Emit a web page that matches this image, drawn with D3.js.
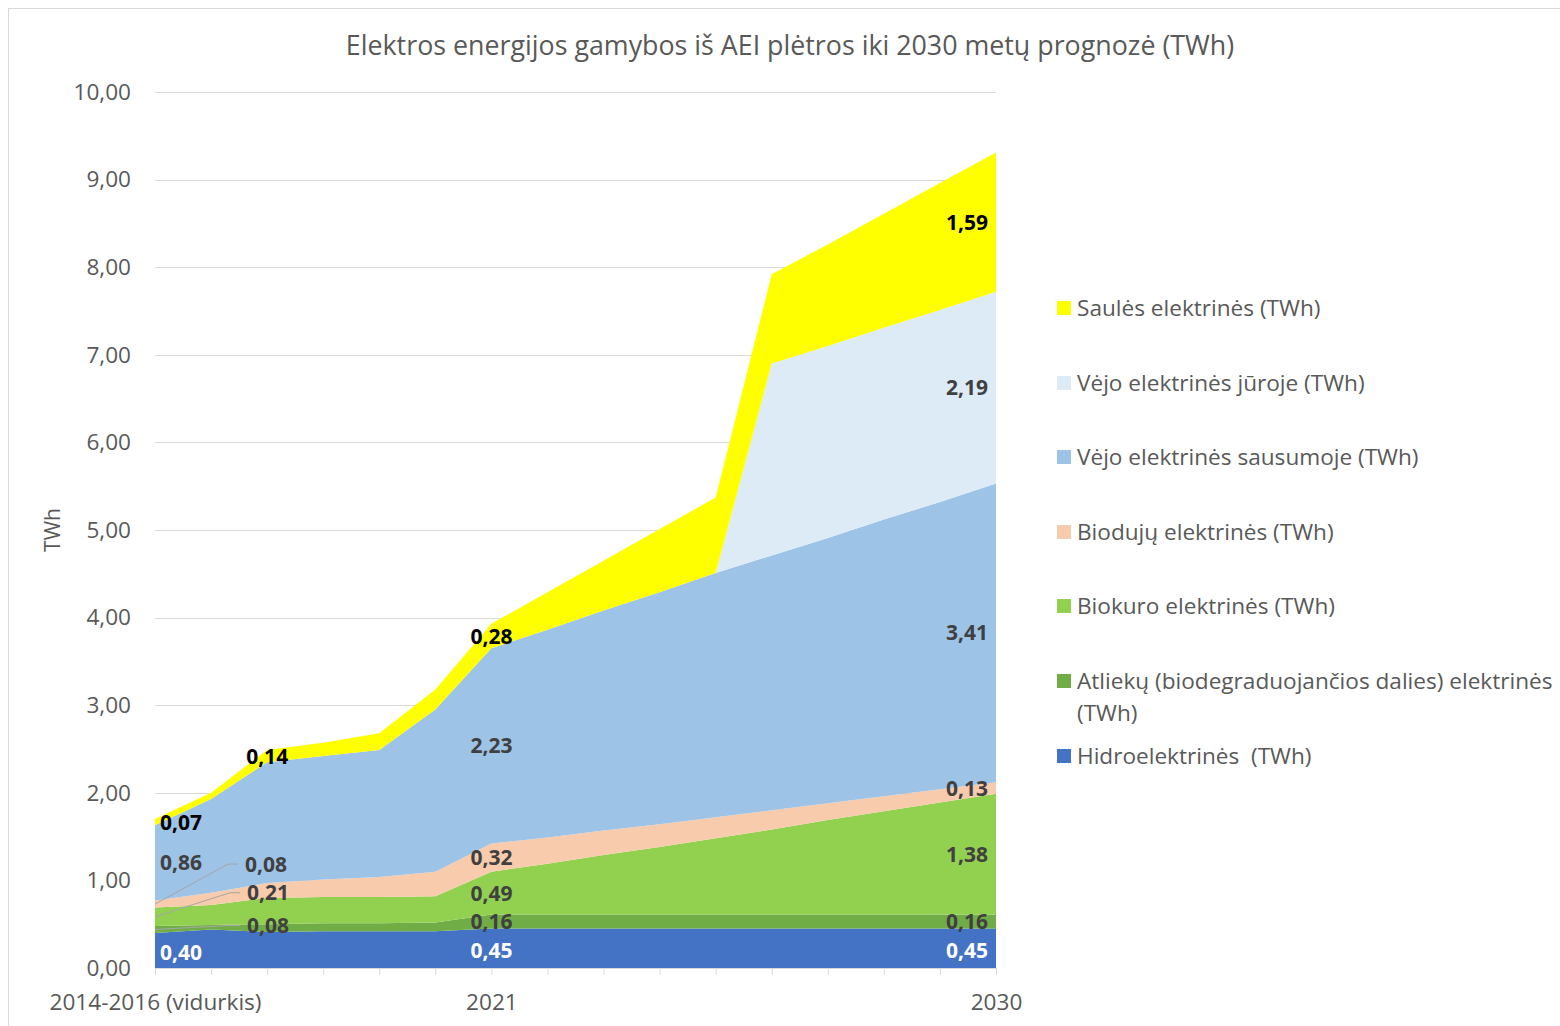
<!DOCTYPE html>
<html>
<head>
<meta charset="utf-8">
<script src="https://cdn.jsdelivr.net/npm/d3@7"></script>
<style>
  body { margin: 0; background: #fff; }
  svg { font-family: "Open Sans", sans-serif; }
</style>
</head>
<body>
<svg id="chart" width="1560" height="1026"></svg>
<script>
// categories: one point per year, first one is the 2014-2016 average
var years = ["2014-2016 (vidurkis)", "2016", "2017", "2018", "2019", "2020", "2021", "2022",
             "2023", "2024", "2025", "2026", "2027", "2028", "2029", "2030"];
var shownTicks = ["2014-2016 (vidurkis)", "2021", "2030"];
var yTicks = [0, 1, 2, 3, 4, 5, 6, 7, 8, 9, 10];

// series values (TWh), bottom to top
var hidro    = [0.40, 0.44, 0.41, 0.42, 0.42, 0.42, 0.45, 0.45, 0.45, 0.45, 0.45, 0.45, 0.45, 0.45, 0.45, 0.45];
var atliekos = [0.08, 0.05, 0.09, 0.09, 0.09, 0.10, 0.16, 0.16, 0.16, 0.16, 0.16, 0.16, 0.16, 0.16, 0.16, 0.16];
var biokuras = [0.21, 0.23, 0.30, 0.30, 0.30, 0.30, 0.49, 0.58, 0.68, 0.77, 0.87, 0.97, 1.08, 1.18, 1.28, 1.38];
var biodujos = [0.08, 0.14, 0.17, 0.20, 0.23, 0.28, 0.32, 0.30, 0.28, 0.26, 0.24, 0.22, 0.19, 0.17, 0.15, 0.13];
var sausuma  = [0.86, 1.07, 1.38, 1.41, 1.45, 1.85, 2.23, 2.37, 2.51, 2.65, 2.79, 2.91, 3.03, 3.16, 3.28, 3.41];
var juroje   = [0, 0, 0, 0, 0, 0, 0, 0, 0, 0, 0, 2.19, 2.19, 2.19, 2.19, 2.19];
var saule    = [0.07, 0.07, 0.14, 0.15, 0.19, 0.23, 0.28, 0.43, 0.57, 0.72, 0.86, 1.02, 1.16, 1.30, 1.45, 1.59];

var series = [
  { key: "hidro",    name: "Hidroelektrinės  (TWh)", values: hidro,    color: "#4472C4", label: "#ffffff", shown: [0, 6, 15] },
  { key: "atliekos", name: "Atliekų (biodegraduojančios dalies) elektrinės|(TWh)", values: atliekos, color: "#70AD47", label: "#404040", shown: [0, 6, 15] },
  { key: "biokuras", name: "Biokuro elektrinės (TWh)", values: biokuras, color: "#92D050", label: "#404040", shown: [0, 6, 15] },
  { key: "biodujos", name: "Biodujų elektrinės (TWh)", values: biodujos, color: "#F8CBAD", label: "#404040", shown: [0, 6, 15] },
  { key: "sausuma",  name: "Vėjo elektrinės sausumoje (TWh)", values: sausuma, color: "#9DC3E6", label: "#404040", shown: [0, 6, 15] },
  { key: "juroje",   name: "Vėjo elektrinės jūroje (TWh)", values: juroje, color: "#DDEBF7", label: "#404040", shown: [15] },
  { key: "saule",    name: "Saulės elektrinės (TWh)", values: saule, color: "#FFFF00", label: "#000000", shown: [0, 2, 6, 15] }
];

// labels of the first point that were dragged aside (with leader lines)
var moved = { atliekos: [113, -4], biokuras: [113, -24], biodujos: [111, -40] };

var svg = d3.select("#chart");
var fmt = function (v) { return d3.format(".2f")(v).replace(".", ","); };

svg.append("rect")
  .attr("x", 8.5).attr("y", 8.5).attr("width", 1600).attr("height", 1100)
  .attr("fill", "none").attr("stroke", "#d9d9d9");

var x = d3.scalePoint().domain(years).range([155, 996]);
var y = d3.scaleLinear().domain([0, 10]).range([968, 92]);

// title
svg.append("text")
  .attr("x", 790).attr("y", 55)
  .attr("text-anchor", "middle")
  .attr("font-size", 26.8).attr("fill", "#595959")
  .text("Elektros energijos gamybos iš AEI plėtros iki 2030 metų prognozė (TWh)");

// gridlines
svg.append("g").selectAll("line").data(yTicks.slice(1)).join("line")
  .attr("x1", 155).attr("x2", 996)
  .attr("y1", function (d) { return Math.round(y(d)) + 0.5; })
  .attr("y2", function (d) { return Math.round(y(d)) + 0.5; })
  .attr("stroke", "#d9d9d9");

// y axis labels
var yAxis = svg.append("g")
  .attr("transform", "translate(155,0)")
  .call(d3.axisLeft(y).tickValues(yTicks).tickSize(0).tickPadding(24).tickFormat(fmt));
yAxis.select(".domain").remove();
yAxis.selectAll("text").attr("font-size", 22.6).attr("fill", "#595959").attr("font-family", "Open Sans");

svg.append("text")
  .attr("transform", "translate(60,530) rotate(-90)")
  .attr("text-anchor", "middle")
  .attr("font-size", 21).attr("fill", "#595959")
  .text("TWh");

// stacked areas
var table = years.map(function (yr, i) {
  var row = { year: yr };
  series.forEach(function (s) { row[s.key] = s.values[i]; });
  return row;
});
var stack = d3.stack().keys(series.map(function (s) { return s.key; }));
var layers = stack(table);

var area = d3.area()
  .x(function (d) { return x(d.data.year); })
  .y0(function (d) { return y(d[0]); })
  .y1(function (d) { return y(d[1]); });

svg.append("g").selectAll("path").data(layers).join("path")
  .attr("d", area)
  .attr("fill", function (d, i) { return series[i].color; });

// x axis
var xAxis = svg.append("g")
  .attr("transform", "translate(0,968)")
  .call(d3.axisBottom(x).tickSize(7).tickPadding(19)
    .tickFormat(function (d) { return shownTicks.indexOf(d) >= 0 ? d : ""; }));
xAxis.select(".domain").attr("stroke", "#d9d9d9").attr("d", "M155,0.5H996");
xAxis.selectAll(".tick line").attr("stroke", "#d9d9d9");
xAxis.selectAll("text").attr("font-size", 22.6).attr("fill", "#595959").attr("font-family", "Open Sans");

// data labels
var labelG = svg.append("g");
layers.forEach(function (layer, si) {
  var s = series[si];
  s.shown.forEach(function (i) {
    var d = layer[i];
    var px = x(years[i]);
    var py = y((d[0] + d[1]) / 2);
    var lx = px, anchor = "middle";
    if (i === 0) { lx = px + 5; anchor = "start"; }
    if (i === years.length - 1) { lx = px - 8; anchor = "end"; }
    var ly = py;
    if (s.key === "hidro") ly += 2;
    if (i === 0 && moved[s.key]) {
      lx = px + moved[s.key][0];
      ly = py + moved[s.key][1];
      anchor = "middle";
      labelG.append("path")
        .attr("d", "M" + px + "," + py + "L" + (lx - 38) + "," + ly + "H" + (lx - 28))
        .attr("fill", "none").attr("stroke", "#a6a6a6").attr("stroke-width", 1);
    }
    labelG.append("text")
      .attr("x", lx).attr("y", ly)
      .attr("dy", "0.36em")
      .attr("text-anchor", anchor)
      .attr("font-size", 21).attr("font-weight", "bold")
      .attr("fill", s.label)
      .text(fmt(s.values[i]));
  });
});

// legend, top to bottom
var legendY = [308, 383, 457, 532, 606, 681, 756];
var legend = svg.append("g");
series.slice().reverse().forEach(function (s, i) {
  var cy = legendY[i];
  legend.append("rect")
    .attr("x", 1057).attr("y", cy - 7).attr("width", 14).attr("height", 14)
    .attr("fill", s.color);
  s.name.split("|").forEach(function (line, j) {
    legend.append("text")
      .attr("x", 1077).attr("y", cy + j * 32)
      .attr("dy", "0.36em")
      .attr("font-size", 22.6).attr("fill", "#595959")
      .style("white-space", "pre")
      .text(line);
  });
});
</script>
</body>
</html>
